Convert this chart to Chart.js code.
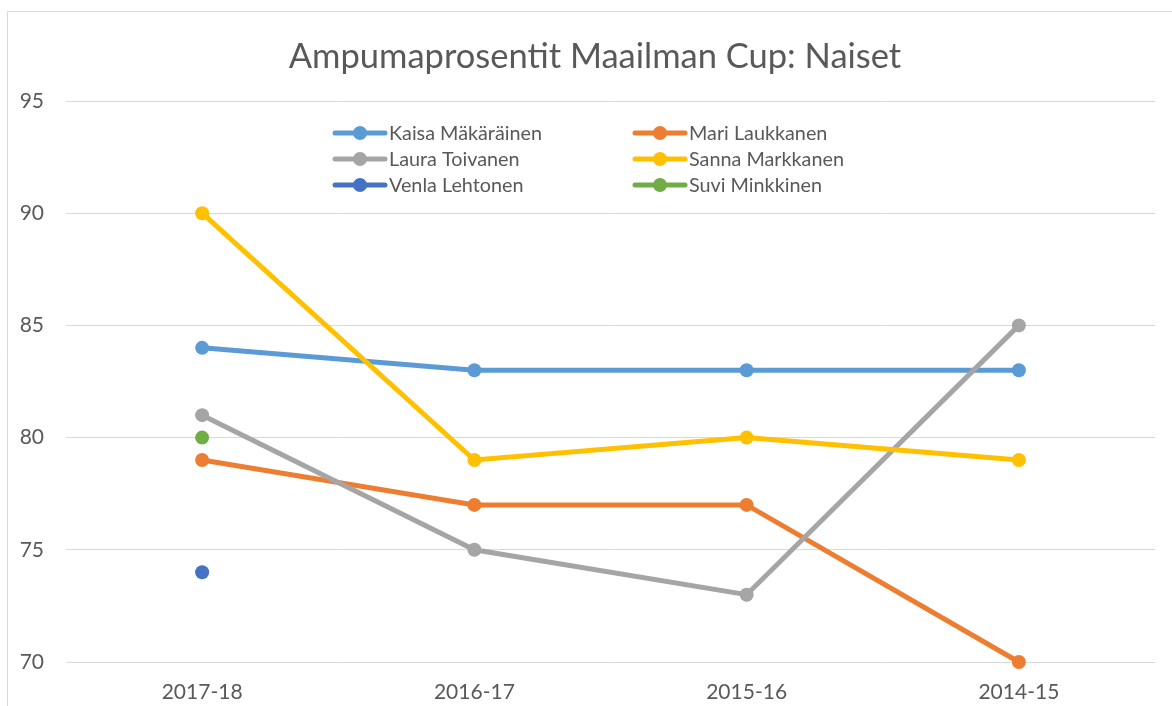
<!DOCTYPE html>
<html>
<head>
<meta charset="utf-8">
<script src="https://cdn.jsdelivr.net/npm/chart.js@4/dist/chart.umd.min.js"></script>
<style>
html,body{margin:0;padding:0;background:#fff;}
canvas{display:block;}
</style>
</head>
<body>
<canvas id="c" width="1172" height="706"></canvas>
<script>
const categories = ["2017-18", "2016-17", "2015-16", "2014-15"];
const seriesNames = ["Kaisa Mäkäräinen", "Mari Laukkanen", "Laura Toivanen", "Sanna Markkanen", "Venla Lehtonen", "Suvi Minkkinen"];
const kaisa = [84, 83, 83, 83];
const mari = [79, 77, 77, 70];
const laura = [81, 75, 73, 85];
const sanna = [90, 79, 80, 79];
const venla = [74, null, null, null];
const suvi = [80, null, null, null];
const yTicks = [70, 75, 80, 85, 90, 95];
const titleText = "Ampumaprosentit Maailman Cup: Naiset";

const colors = ["#5B9BD5", "#ED7D31", "#A5A5A5", "#FFC000", "#4472C4", "#70AD47"];
const seriesData = [kaisa, mari, laura, sanna, venla, suvi];
const FONT = "Lato, 'Open Sans', sans-serif";

const datasets = seriesData.map((d, i) => ({
  label: seriesNames[i],
  data: d,
  borderColor: colors[i],
  backgroundColor: colors[i],
  pointBackgroundColor: colors[i],
  pointBorderColor: colors[i],
  borderWidth: 5,
  pointRadius: 7,
  pointHoverRadius: 7,
  pointBorderWidth: 0,
  tension: 0,
  spanGaps: false,
  clip: false,
  order: seriesData.length - i
}));

const decor = {
  id: 'decor',
  beforeDraw(chart) {
    const ctx = chart.ctx;
    ctx.save();
    ctx.fillStyle = '#fff';
    ctx.fillRect(0, 0, chart.width, chart.height);
    ctx.strokeStyle = '#d9d9d9';
    ctx.lineWidth = 1;
    ctx.beginPath();
    ctx.moveTo(7.5, chart.height + 5);
    ctx.lineTo(7.5, 11.5);
    ctx.lineTo(chart.width + 5, 11.5);
    ctx.stroke();
    // title
    ctx.fillStyle = '#595959';
    ctx.font = "34.5px " + FONT;
    ctx.textAlign = 'center';
    ctx.textBaseline = 'middle';
    ctx.fillText(titleText, 595, 57);
    ctx.restore();
  },
  afterDatasetsDraw(chart) {
    const ctx = chart.ctx;
    ctx.save();
    const cols = [335, 635];
    const rows = [133, 159, 185];
    ctx.font = "19.8px " + FONT;
    ctx.textBaseline = 'middle';
    ctx.textAlign = 'left';
    seriesNames.forEach((name, i) => {
      const x = cols[i % 2];
      const y = rows[Math.floor(i / 2)];
      ctx.strokeStyle = colors[i];
      ctx.lineWidth = 5;
      ctx.lineCap = 'round';
      ctx.beginPath();
      ctx.moveTo(x, y);
      ctx.lineTo(x + 50, y);
      ctx.stroke();
      ctx.fillStyle = colors[i];
      ctx.beginPath();
      ctx.arc(x + 25, y, 7, 0, Math.PI * 2);
      ctx.fill();
      ctx.fillStyle = '#595959';
      ctx.fillText(name, x + 54, y + 1);
    });
    ctx.restore();
  }
};

new Chart(document.getElementById('c'), {
  type: 'line',
  data: { labels: categories, datasets },
  options: {
    responsive: false,
    animation: false,
    devicePixelRatio: 1,
    layout: { padding: { top: 101, right: 17, bottom: 0, left: 0 } },
    plugins: {
      legend: { display: false },
      title: { display: false },
      tooltip: { enabled: false }
    },
    scales: {
      x: {
        offset: true,
        grid: { display: false, drawTicks: false },
        border: { display: false },
        ticks: { color: '#595959', font: { family: FONT, size: 21 }, padding: 18, maxRotation: 0 },
        afterFit(s) { s.height = 44; }
      },
      y: {
        min: 70, max: 95,
        afterBuildTicks(s) { s.ticks = yTicks.map(v => ({ value: v })); },
        grid: { color: '#d9d9d9', lineWidth: 1, drawTicks: false },
        border: { display: false },
        ticks: { color: '#595959', font: { family: FONT, size: 21 }, padding: 22 },
        afterFit(s) { s.width = 66; }
      }
    }
  },
  plugins: [decor]
});
</script>
</body>
</html>
